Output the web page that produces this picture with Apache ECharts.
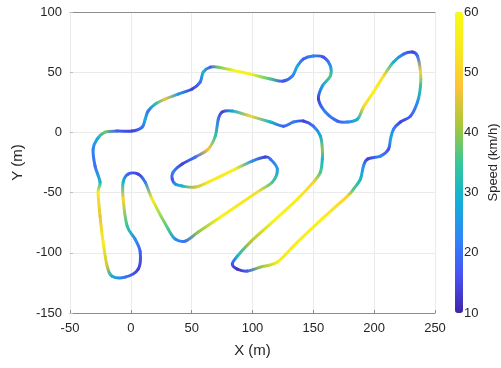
<!DOCTYPE html>
<html>
<head>
<meta charset="utf-8">
<script src="https://cdn.jsdelivr.net/npm/echarts@6/dist/echarts.min.js"></script>
<style>
  html, body { margin: 0; padding: 0; background: #fff; }
  #chart { width: 501px; height: 368px; }
</style>
</head>
<body>
<div id="chart"></div>
<script>
// track centre line (m), traced around the loop in driving order
const trackX = [
  -31.0, -27.7, -21.2, -11.3, 1.1, 9.3, 11.8, 14.2, 20.0, 28.2,
  38.9, 50.4, 57.0, 59.5, 65.3, 71.9, 85.0, 98.2, 114.7, 125.4,
  132.8, 136.9, 141.8, 150.0, 158.3, 164.0, 164.0, 157.4, 154.2, 159.9,
  169.8, 178.0, 186.3, 191.2, 199.4, 207.7, 215.9, 224.1, 231.5, 235.6,
  238.1, 238.1, 235.6, 229.9, 221.6, 215.9, 213.4, 211.8, 205.2, 194.5,
  191.2, 188.7, 183.0, 178.0, 157.0, 136.9, 120.4, 106.4, 95.7, 87.5,
  83.4, 87.5, 98.2, 118.0, 136.9, 150.0, 155.8, 157.4, 157.4, 155.8,
  150.0, 141.8, 133.6, 125.4, 114.7, 98.2, 83.4, 75.1, 71.9, 69.4,
  63.6, 52.9, 42.2, 34.8, 34.0, 36.5, 42.2, 52.9, 63.6, 85.8,
  99.8, 110.5, 114.7, 120.4, 116.3, 103.9, 73.5, 55.4, 44.7, 36.5,
  30.7, 17.5, 11.8, 6.0, -2.2, -6.3, -6.3, -3.0, 3.5, 7.7,
  6.0, -4.7, -15.4, -19.5, -22.8, -25.3, -26.9, -25.3, -29.4
];
const trackY = [
  -13.9, -5.6, 0.2, 1.1, 1.1, 4.4, 11.0, 17.7, 23.5, 27.7,
  31.8, 36.0, 41.8, 50.1, 54.2, 54.2, 51.3, 48.4, 44.3, 42.6,
  46.8, 55.1, 60.9, 63.4, 62.5, 55.1, 46.8, 38.5, 27.7, 16.9,
  9.4, 8.6, 11.0, 21.0, 33.5, 46.8, 58.4, 65.0, 66.7, 63.4,
  50.1, 38.5, 25.2, 13.5, 8.6, 2.7, -5.6, -13.9, -19.7, -22.2,
  -28.0, -38.8, -47.1, -52.9, -72.0, -91.1, -107.7, -111.9, -115.2, -113.6,
  -109.4, -102.8, -91.1, -73.0, -55.4, -41.3, -33.0, -22.2, -13.9, -3.1,
  5.2, 9.4, 8.6, 5.2, 8.6, 13.5, 17.7, 16.9, 11.0, -3.1,
  -13.9, -20.5, -26.3, -33.0, -38.8, -42.9, -44.6, -45.4, -41.3, -30.5,
  -23.8, -20.5, -22.2, -30.5, -41.3, -49.6, -70.5, -82.8, -90.3, -88.6,
  -80.3, -55.4, -41.3, -34.6, -34.6, -41.3, -55.4, -77.8, -88.6, -99.4,
  -113.6, -120.2, -119.4, -111.0, -91.1, -69.5, -49.6, -41.3, -28.0
];
// speed at each point (km/h)
const speed = [
  22, 28, 38, 18, 14, 20, 28, 20, 32, 46,
  26, 14, 20, 30, 18, 38, 58, 56, 36, 16,
  22, 28, 18, 22, 16, 24, 36, 26, 14, 22,
  18, 22, 30, 50, 58, 52, 30, 20, 14, 20,
  50, 34, 24, 18, 14, 22, 28, 16, 22, 14,
  24, 30, 36, 50, 57, 56, 54, 40, 18, 12,
  16, 30, 42, 58, 56, 50, 36, 30, 40, 28,
  20, 14, 22, 18, 30, 50, 28, 14, 20, 34,
  48, 20, 14, 22, 16, 24, 30, 44, 54, 56,
  24, 14, 20, 26, 36, 52, 57, 40, 20, 24,
  36, 55, 22, 14, 18, 30, 50, 34, 24, 18,
  14, 20, 28, 44, 56, 46, 54, 30, 20
];

const speedMin = 10;
const speedMax = 60;
const speedTicks = 10;

// parula
const parula = ['#3E26A8', '#4852F4', '#2E87F7', '#12B1D6', '#37C897', '#ABC739', '#FEC338', '#F8E91F', '#F9FB14'];

const fontFamily = '"Liberation Sans", Arial, sans-serif';
const textColor = '#262626';
const boxColor = '#8c8c8c';

const speedColor = (v) => echarts.color.lerp((v - speedMin) / (speedMax - speedMin), parula);

const chart = echarts.init(document.getElementById('chart'));

// each item draws the piece of track from point i to point i+1 (smooth, colour graded)
const renderItem = (params, api) => {
  const n = trackX.length;
  const i = params.dataIndex;
  const pt = (k) => {
    const j = (k + n) % n;
    return api.coord([trackX[j], trackY[j]]);
  };
  const p0 = pt(i - 1), p1 = pt(i), p2 = pt(i + 1), p3 = pt(i + 2);
  const grad = new echarts.graphic.LinearGradient(p1[0], p1[1], p2[0], p2[1], [
    { offset: 0, color: speedColor(speed[i]) },
    { offset: 1, color: speedColor(speed[(i + 1) % n]) }
  ], true);
  return {
    type: 'bezierCurve',
    shape: {
      x1: p1[0], y1: p1[1],
      x2: p2[0], y2: p2[1],
      cpx1: p1[0] + (p2[0] - p0[0]) / 6,
      cpy1: p1[1] + (p2[1] - p0[1]) / 6,
      cpx2: p2[0] - (p3[0] - p1[0]) / 6,
      cpy2: p2[1] - (p3[1] - p1[1]) / 6
    },
    style: { fill: 'none', stroke: grad, lineWidth: 3, lineCap: 'round' }
  };
};

const option = {
  backgroundColor: '#fff',
  animation: false,
  grid: [
    { left: 70, right: 66, top: 12, bottom: 55 },
    { left: 455, width: 8, top: 12, height: 301 }
  ],
  xAxis: [
    {
      type: 'value', gridIndex: 0, min: -50, max: 250, interval: 50,
      name: 'X (m)', nameLocation: 'middle', nameGap: 30,
      nameTextStyle: { color: textColor, fontSize: 15, fontFamily },
      axisLine: { show: true, onZero: false, lineStyle: { color: boxColor, width: 1 } },
      axisTick: { show: true, inside: true, length: 3, lineStyle: { color: boxColor } },
      axisLabel: { color: textColor, fontSize: 13, margin: 9, fontFamily },
      splitLine: { show: true, lineStyle: { color: '#ebebeb', width: 1 } }
    },
    {
      type: 'value', gridIndex: 0, position: 'top', min: -50, max: 250, interval: 50,
      axisLine: { show: true, onZero: false, lineStyle: { color: boxColor, width: 1 } },
      axisTick: { show: false }, axisLabel: { show: false }, splitLine: { show: false }
    },
    { type: 'value', gridIndex: 1, show: false, min: 0, max: 1 }
  ],
  yAxis: [
    {
      type: 'value', gridIndex: 0, min: -150, max: 100, interval: 50,
      name: 'Y (m)', nameLocation: 'middle', nameGap: 45, nameRotate: 90,
      nameTextStyle: { color: textColor, fontSize: 15, fontFamily },
      axisLine: { show: false, onZero: false },
      axisTick: { show: true, inside: true, length: 3, lineStyle: { color: '#bdbdbd' } },
      axisLabel: { color: textColor, fontSize: 13, margin: 8, fontFamily },
      splitLine: { show: true, lineStyle: { color: '#ebebeb', width: 1 } }
    },
    {
      type: 'value', gridIndex: 1, position: 'right',
      min: speedMin, max: speedMax, interval: speedTicks,
      name: 'Speed (km/h)', nameLocation: 'middle', nameGap: 27, nameRotate: 90,
      nameTextStyle: { color: textColor, fontSize: 13, fontFamily },
      axisLine: { show: false }, axisTick: { show: false },
      axisLabel: { color: textColor, fontSize: 13, margin: 4, fontFamily },
      splitLine: { show: false }
    }
  ],
  visualMap: {
    type: 'continuous',
    min: speedMin, max: speedMax,
    seriesIndex: 0, dimension: 2,
    inRange: { color: parula },
    left: 455, top: 12, itemWidth: 8, itemHeight: 301,
    padding: 0, calculable: false, hoverLink: false,
    text: null, showLabel: false
  },
  series: [
    {
      type: 'custom',
      coordinateSystem: 'cartesian2d',
      xAxisIndex: 0, yAxisIndex: 0,
      renderItem,
      encode: { x: 0, y: 1 },
      clip: false,
      data: trackX.map((x, i) => [x, trackY[i], speed[i]])
    }
  ]
};

chart.setOption(option);
</script>
</body>
</html>
